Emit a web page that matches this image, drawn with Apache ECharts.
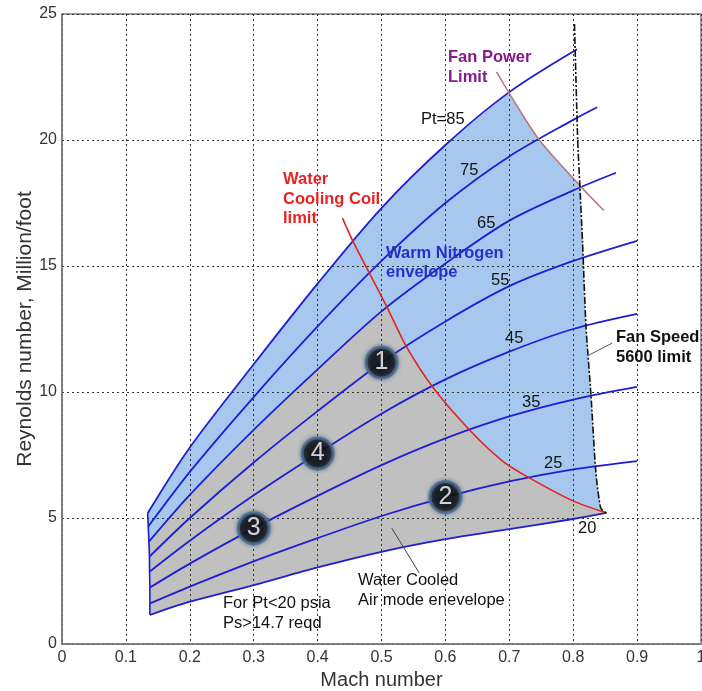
<!DOCTYPE html>
<html>
<head>
<meta charset="utf-8">
<script src="https://cdn.jsdelivr.net/npm/echarts@6/dist/echarts.min.js"></script>
<style>
  html, body { margin: 0; padding: 0; background: #fff; }
  #chart { width: 702px; height: 691px; }
</style>
</head>
<body>
<div id="chart"></div>
<script>
// Constant total-pressure lines (Pt, psia): Mach number vs Reynolds number (million per foot)
const mach20 = [0.1375, 0.2, 0.3, 0.4, 0.5, 0.6, 0.7, 0.8, 0.852];
const re20   = [1.15, 1.68, 2.34, 3.04, 3.66, 4.16, 4.56, 4.96, 5.2];
const mach25 = [0.1375, 0.2, 0.3, 0.4, 0.5, 0.6, 0.7, 0.8, 0.9];
const re25   = [1.61, 2.28, 3.28, 4.2, 5.08, 5.83, 6.45, 6.93, 7.26];
const mach35 = [0.1375, 0.2, 0.3, 0.4, 0.5, 0.6, 0.7, 0.8, 0.9];
const re35   = [2.24, 3.19, 4.59, 5.88, 7.1, 8.16, 9.03, 9.7, 10.2];
const mach45 = [0.137, 0.2, 0.3, 0.4, 0.5, 0.6, 0.7, 0.8, 0.9];
const re45   = [2.87, 4.1, 5.9, 7.56, 9.14, 10.5, 11.6, 12.5, 13.1];
const mach55 = [0.137, 0.2, 0.3, 0.4, 0.5, 0.6, 0.7, 0.8, 0.9];
const re55   = [3.47, 5.0, 7.2, 9.24, 11.17, 12.8, 14.2, 15.2, 16.0];
const mach65 = [0.136, 0.2, 0.3, 0.4, 0.5, 0.6, 0.7, 0.8, 0.867];
const re65   = [4.06, 5.92, 8.5, 10.9, 13.2, 15.1, 16.8, 18.0, 18.7];
const mach75 = [0.135, 0.2, 0.3, 0.4, 0.5, 0.6, 0.7, 0.8, 0.8375];
const re75   = [4.66, 6.83, 9.8, 12.6, 15.2, 17.5, 19.35, 20.8, 21.3];
const mach85 = [0.134, 0.2, 0.3, 0.4, 0.5, 0.6, 0.7, 0.806];
const re85   = [5.19, 7.8, 11.1, 14.3, 17.3, 19.8, 21.9, 23.6];

// Operating limits
const coilMach = [0.439, 0.455, 0.508, 0.539, 0.58, 0.6375, 0.6875, 0.728, 0.798, 0.852];
const coilRe   = [16.9, 16.0, 13.4, 11.8, 10.2, 8.5, 7.3, 6.64, 5.7, 5.2];
const powerMach = [0.68, 0.7, 0.747, 0.812, 0.848];
const powerRe   = [22.7, 21.85, 20.0, 18.15, 17.2];
const speedMach = [0.802, 0.807, 0.8105, 0.8145, 0.82, 0.8276, 0.8355, 0.843, 0.852];
const speedRe   = [24.6, 20.0, 18.15, 16.0, 12.6, 9.96, 6.8, 5.4, 5.2];

// Numbered test points
const pointMach = [0.5, 0.6, 0.3, 0.4];
const pointRe   = [11.17, 5.83, 4.59, 7.56];
const pointIds  = ['1', '2', '3', '4'];

// Axis tick labels
const machTicks = ['0', '0.1', '0.2', '0.3', '0.4', '0.5', '0.6', '0.7', '0.8', '0.9', '1'];
const reTicks   = ['0', '5', '10', '15', '20', '25'];

const FONT = '"Liberation Sans", Arial, sans-serif';
const zip = (xs, ys) => xs.map((x, i) => [x, ys[i]]);

const p20 = zip(mach20, re20), p25 = zip(mach25, re25), p35 = zip(mach35, re35),
      p45 = zip(mach45, re45), p55 = zip(mach55, re55), p65 = zip(mach65, re65),
      p75 = zip(mach75, re75), p85 = zip(mach85, re85);
const ptCurves = [p20, p25, p35, p45, p55, p65, p75, p85];
const coil = zip(coilMach, coilRe);
const power = zip(powerMach, powerRe);
const speed = zip(speedMach, speedRe);

// First crossing of two polylines (segment indices + point)
function crossing(a, b) {
  for (let i = 0; i < a.length - 1; i++) {
    for (let j = 0; j < b.length - 1; j++) {
      const [x1, y1] = a[i], [x2, y2] = a[i + 1], [x3, y3] = b[j], [x4, y4] = b[j + 1];
      const d = (x2 - x1) * (y4 - y3) - (y2 - y1) * (x4 - x3);
      if (d === 0) continue;
      const t = ((x3 - x1) * (y4 - y3) - (y3 - y1) * (x4 - x3)) / d;
      const u = ((x3 - x1) * (y2 - y1) - (y3 - y1) * (x2 - x1)) / d;
      if (t >= 0 && t <= 1 && u >= 0 && u <= 1) {
        return { pt: [x1 + t * (x2 - x1), y1 + t * (y2 - y1)], i, j };
      }
    }
  }
  return null;
}

// Warm nitrogen envelope: Pt 20..85, capped by fan power and fan speed
const c1 = crossing(p85, power);
const c2 = crossing(power, speed);
const nitrogenEnv = [p20[0], ...p85.slice(0, c1.i + 1), c1.pt,
  ...power.slice(c1.j + 1, c2.i + 1), c2.pt, ...speed.slice(c2.j + 1),
  ...p20.slice().reverse()];

// Water cooled air envelope: Pt 20..65, capped by the cooling-coil limit
const c3 = crossing(p65, coil);
const airEnv = [p20[0], ...p65.slice(0, c3.i + 1), c3.pt, ...coil.slice(c3.j + 1),
  ...p20.slice().reverse()];

function areaSeries(verts, fill) {
  return {
    type: 'custom', z: 1, silent: true,
    data: [verts[0]],
    renderItem: (params, api) => ({
      type: 'polygon',
      shape: { points: verts.map(v => api.coord(v)) },
      style: { fill: fill, stroke: null }
    })
  };
}

function lineSeries(data, color, width, type, smooth) {
  return {
    type: 'line', data: data, z: 3, symbol: 'none', silent: true,
    smooth: smooth === undefined ? 0.3 : smooth,
    lineStyle: { color: color, width: width, type: type || 'solid' }
  };
}

const BLUE = '#1e1ed2';
const series = [
  areaSeries(nitrogenEnv, '#a7c8ee'),
  areaSeries(airEnv, '#c0c0c0'),
  lineSeries(ptCurves.map(c => c[0]), BLUE, 1.6, 'solid', false),
  ...ptCurves.map(c => lineSeries(c, BLUE, 1.8)),
  lineSeries(coil, '#e3211f', 1.6),
  lineSeries(power, '#b9787e', 1.5),
  lineSeries(speed, '#111', 1.6, [7, 2, 2, 2], 0.2),
  lineSeries([[0.825, 11.47], [0.861, 11.94]], '#555', 1, 'solid', false),
  lineSeries([[0.516, 4.6], [0.559, 2.82]], '#444', 1, 'solid', false),
  {
    type: 'scatter', z: 5, silent: true,
    data: pointMach.map((m, i) => [m, pointRe[i], pointIds[i]]),
    symbol: 'circle', symbolSize: 31,
    itemStyle: { color: '#050505', borderColor: '#4c6c8e', borderWidth: 3,
                 shadowBlur: 4, shadowColor: 'rgba(70,100,140,0.8)' },
    label: { show: true, position: 'inside', formatter: p => p.data[2],
             color: '#ffffff', fontSize: 25, fontFamily: FONT,
             textBorderWidth: 0, textShadowBlur: 0 }
  }
];

// Text notes: [text, x, y, color, weight]
const notes = [
  ['Fan Power', 448, 57, '#85198a', 'bold'],
  ['Limit', 448, 77, '#85198a', 'bold'],
  ['Pt=85', 421, 119, '#111', 'normal'],
  ['75', 460, 170, '#111', 'normal'],
  ['65', 477, 223, '#111', 'normal'],
  ['55', 491, 280, '#111', 'normal'],
  ['45', 505, 338, '#111', 'normal'],
  ['35', 522, 402, '#111', 'normal'],
  ['25', 544, 463, '#111', 'normal'],
  ['20', 578, 528, '#111', 'normal'],
  ['Water', 283, 179, '#e82222', 'bold'],
  ['Cooling Coil', 283, 199, '#e82222', 'bold'],
  ['limit', 283, 218, '#e82222', 'bold'],
  ['Warm Nitrogen', 386, 253, '#2530c8', 'bold'],
  ['envelope', 386, 272, '#2530c8', 'bold'],
  ['Fan Speed', 616, 337, '#111', 'bold'],
  ['5600 limit', 616, 357, '#111', 'bold'],
  ['Water Cooled', 358, 580, '#111', 'normal'],
  ['Air mode enevelope', 358, 600, '#111', 'normal'],
  ['For Pt<20 psia', 223, 603, '#111', 'normal'],
  ['Ps>14.7 reqd', 223, 623, '#111', 'normal']
];

const chart = echarts.init(document.getElementById('chart'), null, { renderer: 'canvas' });
chart.setOption({
  animation: false,
  backgroundColor: '#fff',
  grid: { left: 62, top: 14, right: 1, bottom: 47, show: true, containLabel: false,
          outerBoundsMode: 'none',
          borderColor: '#7a7a7a', borderWidth: 1.5, backgroundColor: 'transparent', z: 0 },
  xAxis: {
    type: 'value', min: 0, max: 1, interval: 0.1, z: 2,
    name: 'Mach number', nameLocation: 'middle', nameGap: 24,
    nameTextStyle: { fontSize: 20, color: '#333', fontFamily: FONT },
    axisLine: { show: true, onZero: false, lineStyle: { color: '#7a7a7a', width: 1.5 } },
    axisTick: { show: false },
    axisLabel: { formatter: (v, i) => machTicks[i], fontSize: 16, color: '#333',
                 fontFamily: FONT, margin: 6, showMaxLabel: true },
    splitLine: { show: true, lineStyle: { color: '#333', width: 1, type: [2, 3] } }
  },
  yAxis: {
    type: 'value', min: 0, max: 25, interval: 5, z: 2,
    name: 'Reynolds number, Million/foot', nameLocation: 'middle', nameGap: 26,
    nameMoveOverlap: false,
    nameTextStyle: { fontSize: 21, color: '#333', fontFamily: FONT },
    axisLine: { show: true, onZero: false, lineStyle: { color: '#7a7a7a', width: 1.5 } },
    axisTick: { show: false },
    axisLabel: { formatter: (v, i) => reTicks[i], fontSize: 16, color: '#333',
                 fontFamily: FONT, margin: 5 },
    splitLine: { show: true, lineStyle: { color: '#333', width: 1, type: [2, 3] } }
  },
  series: series,
  graphic: notes.map(([t, x, y, c, w]) => ({
    type: 'text', x: x, y: y, z: 10, silent: true,
    style: { text: t, fill: c, font: w + ' 16.5px ' + FONT, verticalAlign: 'middle' }
  }))
});
</script>
</body>
</html>
